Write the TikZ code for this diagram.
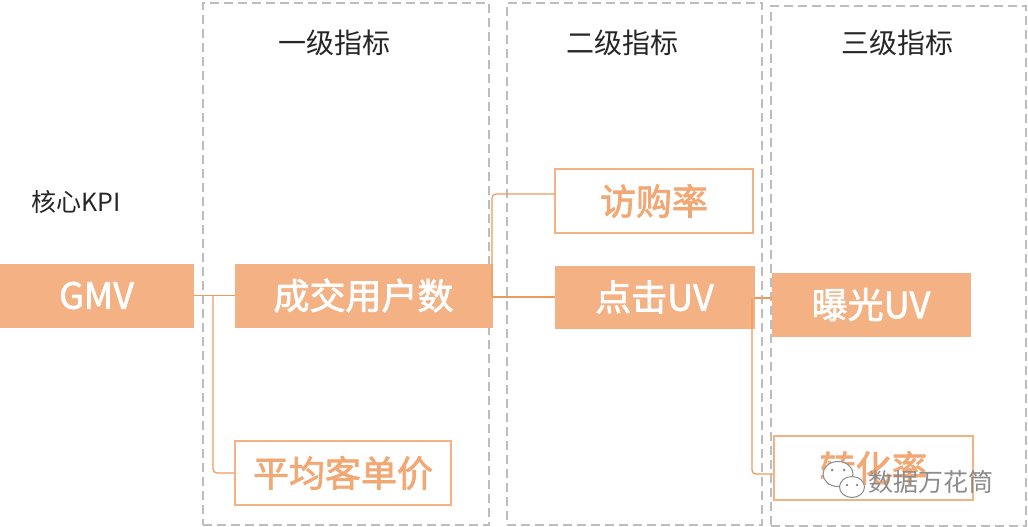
\documentclass[tikz,border=0pt]{standalone}
\usepackage{fontspec}
\setmainfont{Noto Sans CJK SC}
\newfontfamily\medfont[FakeBold=2]{Noto Sans CJK SC}
\definecolor{fillor}{HTML}{F4B183}
\definecolor{lineor}{HTML}{EE9A5C}
\definecolor{txtor}{HTML}{F2A874}
\definecolor{dashgray}{HTML}{BDBDBD}
\definecolor{wmgray}{HTML}{8C8C8C}
\tikzset{
  col/.style={draw=dashgray, line width=1.6pt, dash pattern=on 9pt off 5pt},
  filledbox/.style={draw=fillor, fill=fillor, line width=1pt, inner sep=0pt, text=white, font=\medfont\fontsize{36}{40}\selectfont},
  outlinebox/.style={draw=fillor, fill=white, line width=1.2pt, inner sep=0pt, text=txtor, font=\medfont\fontsize{36}{40}\selectfont},
  hdr/.style={text=black!85, font=\fontsize{28}{30}\selectfont, inner sep=0pt},
  conn/.style={draw=lineor, line width=1.2pt, rounded corners=4pt},
}
\begin{document}
\begin{tikzpicture}[x=1pt,y=-1pt]
\useasboundingbox (0,0) rectangle (1028,527);
% dashed columns
\node[col, minimum width=286pt, minimum height=522pt, anchor=north west, inner sep=0pt] (c1) at (202,2) {};
\node[col, minimum width=255pt, minimum height=522pt, anchor=north west, inner sep=0pt] (c2) at (506,2) {};
\node[col, minimum width=255pt, minimum height=520pt, anchor=north west, inner sep=0pt] (c3) at (770,5) {};
% headers
\node[hdr] (h1) at (334,43) {一级指标};
\node[hdr] (h2) at (622,43) {二级指标};
\node[hdr] (h3) at (897,43) {三级指标};
\node[hdr, anchor=west, font=\fontsize{25}{28}\selectfont] (kpi) at (31,202) {核心KPI};
% boxes
\node[filledbox, minimum width=193pt, minimum height=63pt] (gmv) at (96.5,295.5) {GMV};
\node[filledbox, minimum width=257pt, minimum height=63pt] (cj) at (363.5,295.5) {成交用户数};
\node[outlinebox, minimum width=216pt, minimum height=64pt] (pj) at (343,473) {平均客单价};
\node[outlinebox, minimum width=198pt, minimum height=64pt] (fg) at (654,201) {访购率};
\node[filledbox, minimum width=199pt, minimum height=62pt] (dj) at (654.5,297) {点击UV};
\node[filledbox, minimum width=198pt, minimum height=63pt] (bg) at (871,304.5) {曝光UV};
\node[outlinebox, minimum width=199pt, minimum height=64pt] (zh) at (873.5,468) {转化率};
% connectors
\coordinate (j1) at (213,295.5);
\coordinate (j2) at (492,297);
\coordinate (j3) at (752,298);
\draw[conn] (gmv.east) -- (cj.west);
\draw[conn] (j1) -- (j1 |- pj.west) -- (pj.west);
\draw[conn] (j2) -- (492,194) -- ([yshift=7pt]fg.west);
\draw[conn] (j2) -- (dj.west);
\draw[conn] (dj.east |- j3) -- (j3) -- (bg.west |- j3);
\draw[conn] (j3) -- (752,474) -- ([yshift=-6pt]zh.west);
% watermark
\begin{scope}[draw=wmgray, line width=1pt]
\draw[fill=white] (838,474) ellipse (15pt and 12.5pt);
\draw[fill=white] (852,487) ellipse (12.5pt and 10.5pt);
\fill[wmgray] (832,470) circle (1.5pt) (844,470) circle (1.5pt) (847,485) circle (1.3pt) (857,485) circle (1.3pt);
\end{scope}
\node[text=wmgray, font=\fontsize{25}{27}\selectfont, anchor=west, inner sep=0pt] (wm) at (868,482) {数据万花筒};
\end{tikzpicture}
\end{document}
